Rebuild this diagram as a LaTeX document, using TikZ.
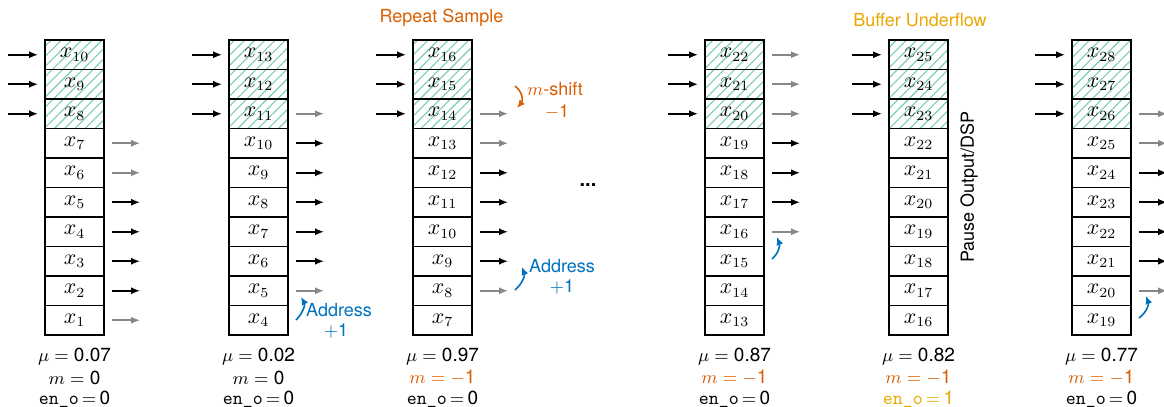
\documentclass[tikz,border=0pt]{standalone}
\usepackage{fontspec}
\setmainfont{TeX Gyre Heros}
\usetikzlibrary{arrows.meta,patterns.meta}
\definecolor{hatchc}{RGB}{120,205,180}
\definecolor{orangeD}{RGB}{217,95,2}
\definecolor{yellowD}{RGB}{232,168,0}
\definecolor{blueD}{RGB}{0,114,189}
\definecolor{grayar}{RGB}{135,135,135}
\begin{document}
\begin{tikzpicture}[x=0.5pt,y=-0.5pt,
  cell/.style={draw,line width=0.75pt,minimum width=29.5pt,minimum height=14.75pt,inner sep=0pt,outer sep=0pt,anchor=north west,font=\fontsize{10.5}{12}\selectfont},
  hcell/.style={cell,pattern={Lines[angle=45,distance=3.6pt,line width=0.55pt]},pattern color=hatchc},
  arr/.style={line width=0.8pt,-{Latex[length=4.5pt,width=3.6pt]}},
  lab/.style={font=\fontsize{9.5}{11}\selectfont,inner sep=0pt},
  ann/.style={font=\fontsize{9}{11}\selectfont,inner sep=0pt,align=center},
  curv/.style={line width=0.8pt,-{Latex[length=4pt,width=3.6pt]}}]
\useasboundingbox (0,0) rectangle (1164,407);
% cells
\foreach \c/\l/\t in {1/45/10,2/229/13,3/413/16,4/705/22,5/889/25,6/1072/28}{
  \foreach \r in {1,...,10}{
    \pgfmathtruncatemacro{\idx}{\t-\r+1}
    \pgfmathsetmacro{\yy}{40+(\r-1)*29.5}
    \ifnum\r<4
      \node[hcell] (c\c r\r) at (\l,\yy) {$x_{\idx}$};
    \else
      \node[cell] (c\c r\r) at (\l,\yy) {$x_{\idx}$};
    \fi
  }
  \foreach \r in {1,2,3}{
    \draw[arr,draw=black] ([xshift=-18.5pt]c\c r\r.west) -- ([xshift=-3.5pt]c\c r\r.west);
  }
}
% output arrows
\foreach \c/\r/\k in {1/4/grayar,1/5/grayar,1/6/black,1/7/black,1/8/black,1/9/black,1/10/grayar,
  2/3/grayar,2/4/black,2/5/black,2/6/black,2/7/black,2/8/black,2/9/grayar,
  3/3/grayar,3/4/grayar,3/5/black,3/6/black,3/7/black,3/8/black,3/9/grayar,
  4/1/grayar,4/2/grayar,4/3/grayar,4/4/black,4/5/black,4/6/black,4/7/grayar,
  6/3/grayar,6/4/grayar,6/5/black,6/6/black,6/7/black,6/8/black,6/9/grayar}{
  \draw[arr,draw=\k] ([xshift=4pt]c\c r\r.east) -- ([xshift=18pt]c\c r\r.east);
}
% labels below
\foreach \c/\x/\mv/\mm/\mc/\e/\ec in {1/74.5/0.07/0/black/0/black,2/258.5/0.02/0/black/0/black,
  3/442.5/0.97/$-$1/orangeD/0/black,4/734.5/0.87/$-$1/orangeD/0/black,
  5/918.5/0.82/$-$1/orangeD/1/yellowD,6/1101.5/0.77/$-$1/orangeD/0/black}{
  \node[lab] (mu\c) at (\x,357) {$\mu=$ \mv};
  \node[lab,text=\mc] (m\c) at (\x,378) {$m=$ \mm};
  \node[lab,text=\ec] (e\c) at (\x,399) {\texttt{en\_o}\,$=$\,\e};
}
% blue address arrows
\coordinate (b2s) at (296,320); \coordinate (b2e) at (301,297);
\draw[curv,blueD] (b2s) .. controls (304,312) and (305,304) .. (b2e);
\coordinate (b3s) at (515,290); \coordinate (b3e) at (522,267);
\draw[curv,blueD] (b3s) .. controls (523,283) and (525,275) .. (b3e);
\coordinate (b4s) at (772,259); \coordinate (b4e) at (777,237);
\draw[curv,blueD] (b4s) .. controls (779,253) and (780,245) .. (b4e);
\coordinate (b6s) at (1139,318); \coordinate (b6e) at (1146,296);
\draw[curv,blueD] (b6s) .. controls (1147,312) and (1149,304) .. (b6e);
\node[ann,text=blueD] (ad2) at (339,310) {Address};
\node[ann,text=blueD] (pl2) at (336,331) {$+$1};
\node[ann,text=blueD] (ad3) at (562,266) {Address};
\node[ann,text=blueD] (pl3) at (562,287) {$+$1};
% m-shift
\coordinate (mss) at (515,86); \coordinate (mse) at (517,108);
\draw[curv,orangeD] (mss) .. controls (523,92) and (523,101) .. (mse);
\node[ann,text=orangeD] (msh) at (555,89) {$m$-shift};
\node[ann,text=orangeD] (msm) at (557,112) {$-$1};
% titles
\node[ann,text=orangeD] (t1) at (441.5,18) {Repeat Sample};
\node[ann,text=yellowD] (t2) at (920,20) {Buffer Underflow};
\node[ann,rotate=90] (pause) at (969,187) {Pause Output/DSP};
\node[font=\fontsize{10}{12}\selectfont\bfseries,inner sep=0pt] (dots) at (588,185) {...};
\end{tikzpicture}
\end{document}
